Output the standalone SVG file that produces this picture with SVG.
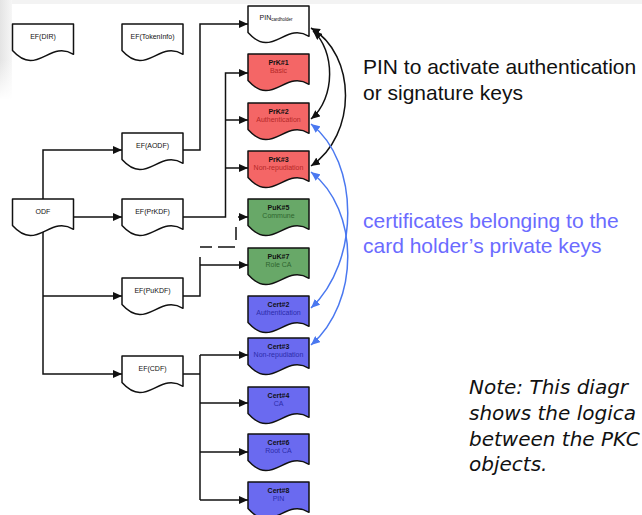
<svg xmlns="http://www.w3.org/2000/svg" xmlns:xlink="http://www.w3.org/1999/xlink" width="642" height="515" viewBox="0 0 642 515">
  <defs>
    <style>
      .doc { stroke: #111; stroke-width: 1.5; stroke-linejoin: round; }
      .white { fill: #ffffff; }
      .red { fill: #f46666; }
      .green { fill: #68a868; }
      .blue { fill: #6a6af0; }
      .lbl { font-family: "Liberation Sans", Arial, sans-serif; font-size: 7px; text-anchor: middle; fill: #111; }
      .id { font-weight: bold; }
      .nm-red { fill: #b42828; }
      .nm-green { fill: #2f652f; }
      .nm-blue { fill: #2c2caa; }
      .wire { fill: none; stroke: #111; stroke-width: 1.5; }
      .dash { stroke-dasharray: 12 6 17 8 13 12 10; }
      .pin-link { fill: none; stroke: #111; stroke-width: 1.5; }
      .cert-link { fill: none; stroke: #4a78f0; stroke-width: 1.5; }
      .big { font-family: "Liberation Sans", Arial, sans-serif; font-size: 21px; }
      .note { font-family: "DejaVu Sans", Verdana, sans-serif; font-style: italic; font-size: 20px; fill: #111; }
    </style>
    <!-- document shape: flat top, straight sides, wavy bottom -->
    <path id="doc" d="M0,0 H61 V30.3 C36.6,15.5 24.4,53.7 0,26.6 Z"/>
    <marker id="ah" markerWidth="9" markerHeight="8" refX="9" refY="4" orient="auto" markerUnits="userSpaceOnUse">
      <path d="M0,0 L9,4 L0,8 Z" fill="#111"/>
    </marker>
    <marker id="ahb" markerWidth="9" markerHeight="8" refX="9" refY="4" orient="auto-start-reverse" markerUnits="userSpaceOnUse">
      <path d="M0,0 L9,4 L0,8 Z" fill="#111"/>
    </marker>
    <marker id="ahblue" markerWidth="9" markerHeight="8" refX="9" refY="4" orient="auto-start-reverse" markerUnits="userSpaceOnUse">
      <path d="M0,0 L9,4 L0,8 Z" fill="#4a78f0"/>
    </marker>
    <linearGradient id="shade" x1="0" y1="0" x2="1" y2="0">
      <stop offset="0" stop-color="#e4e4e4"/>
      <stop offset="1" stop-color="#f6f6f6"/>
    </linearGradient>
    <linearGradient id="fadeDown" x1="0" y1="0" x2="0" y2="1">
      <stop offset="0" stop-color="#fff" stop-opacity="0"/>
      <stop offset="1" stop-color="#fff" stop-opacity="1"/>
    </linearGradient>
  </defs>

  <rect width="642" height="515" fill="#ffffff"/>
  <!-- soft shading along the top-left edge -->
  <rect x="0" y="0" width="642" height="4" fill="#f3f3f3"/>
  <rect x="0" y="0" width="12" height="100" fill="url(#shade)"/>
  <rect x="0" y="60" width="12" height="40" fill="url(#fadeDown)"/>

  <!-- connectors -->
  <g id="connectors">
    <path class="wire" d="M43,199 V150 H122" marker-end="url(#ah)"/>
    <path class="wire" d="M74,217 H122" marker-end="url(#ah)"/>
    <path class="wire" d="M43,230 V374 H122" marker-end="url(#ah)"/>
    <path class="wire" d="M43,296 H122" marker-end="url(#ah)"/>

    <path class="wire" d="M183,150 H200 V24 H248" marker-end="url(#ah)"/>

    <path class="wire" d="M183,217 H225.5 V73 H248" marker-end="url(#ah)"/>
    <path class="wire" d="M225.5,120 H248" marker-end="url(#ah)"/>
    <path class="wire" d="M225.5,168 H248" marker-end="url(#ah)"/>

    <path class="wire" d="M183,296 H200 V257"/>
    <path class="wire" d="M200,265 H248" marker-end="url(#ah)"/>
    <path class="wire dash" d="M200,247 H236 V217 H248" marker-end="url(#ah)"/>

    <path class="wire" d="M183,374 H200"/>
    <path class="wire" d="M200,355 V500"/>
    <path class="wire" d="M200,355 H248" marker-end="url(#ah)"/>
    <path class="wire" d="M200,403 H248" marker-end="url(#ah)"/>
    <path class="wire" d="M200,452 H248" marker-end="url(#ah)"/>
    <path class="wire" d="M200,500 H248" marker-end="url(#ah)"/>

    <!-- PIN protects the private keys -->
    <path class="pin-link" d="M313,31 C335,50 336,98 311,119" marker-start="url(#ahb)" marker-end="url(#ahb)"/>
    <path class="pin-link" d="M311,28 C357,55 357,135 311,166" marker-start="url(#ahb)" marker-end="url(#ahb)"/>

    <!-- certificates matching the private keys -->
    <path class="cert-link" d="M311,124 C360,162 360,262 311,308" marker-start="url(#ahblue)" marker-end="url(#ahblue)"/>
    <path class="cert-link" d="M311,172 C360,210 360,302 311,345" marker-start="url(#ahblue)" marker-end="url(#ahblue)"/>
  </g>

  <!-- directory files -->
  <g id="ef-dir">
    <use xlink:href="#doc" x="12.5" y="24" class="doc white"/>
    <text class="lbl" x="43" y="38.5">EF(DIR)</text>
  </g>
  <g id="ef-tokeninfo">
    <use xlink:href="#doc" x="122" y="24" class="doc white"/>
    <text class="lbl" x="152.5" y="38.5">EF(TokenInfo)</text>
  </g>
  <g id="odf">
    <use xlink:href="#doc" x="12.5" y="199" class="doc white"/>
    <text class="lbl" x="43" y="214">ODF</text>
  </g>
  <g id="ef-aodf">
    <use xlink:href="#doc" x="122" y="133" class="doc white"/>
    <text class="lbl" x="152.5" y="147.5">EF(AODF)</text>
  </g>
  <g id="ef-prkdf">
    <use xlink:href="#doc" x="122" y="199" class="doc white"/>
    <text class="lbl" x="152.5" y="213.5">EF(PrKDF)</text>
  </g>
  <g id="ef-pukdf">
    <use xlink:href="#doc" x="122" y="278" class="doc white"/>
    <text class="lbl" x="152.5" y="292.5">EF(PuKDF)</text>
  </g>
  <g id="ef-cdf">
    <use xlink:href="#doc" x="122" y="356" class="doc white"/>
    <text class="lbl" x="152.5" y="370.5">EF(CDF)</text>
  </g>

  <!-- PKCS#15 objects -->
  <g id="pin">
    <use xlink:href="#doc" x="248" y="6" class="doc white"/>
    <text class="lbl" x="276" y="19.5">PIN<tspan font-size="4.5" dy="1.8">cardholder</tspan></text>
  </g>
  <g id="prk1">
    <use xlink:href="#doc" x="248" y="54" class="doc red"/>
    <text class="lbl id" x="278.5" y="64.5">PrK#1</text>
    <text class="lbl nm-red" x="278.5" y="73">Basic</text>
  </g>
  <g id="prk2">
    <use xlink:href="#doc" x="248" y="103" class="doc red"/>
    <text class="lbl id" x="278.5" y="113.5">PrK#2</text>
    <text class="lbl nm-red" x="278.5" y="122">Authentication</text>
  </g>
  <g id="prk3">
    <use xlink:href="#doc" x="248" y="151" class="doc red"/>
    <text class="lbl id" x="278.5" y="161.5">PrK#3</text>
    <text class="lbl nm-red" x="278.5" y="170">Non-repudiation</text>
  </g>
  <g id="puk5">
    <use xlink:href="#doc" x="248" y="199" class="doc green"/>
    <text class="lbl id" x="278.5" y="209.5">PuK#5</text>
    <text class="lbl nm-green" x="278.5" y="218">Commune</text>
  </g>
  <g id="puk7">
    <use xlink:href="#doc" x="248" y="248" class="doc green"/>
    <text class="lbl id" x="278.5" y="258.5">PuK#7</text>
    <text class="lbl nm-green" x="278.5" y="267">Role CA</text>
  </g>
  <g id="cert2">
    <use xlink:href="#doc" x="248" y="296" class="doc blue"/>
    <text class="lbl id" x="278.5" y="306.5">Cert#2</text>
    <text class="lbl nm-blue" x="278.5" y="315">Authentication</text>
  </g>
  <g id="cert3">
    <use xlink:href="#doc" x="248" y="338" class="doc blue"/>
    <text class="lbl id" x="278.5" y="348.5">Cert#3</text>
    <text class="lbl nm-blue" x="278.5" y="357">Non-repudiation</text>
  </g>
  <g id="cert4">
    <use xlink:href="#doc" x="248" y="387" class="doc blue"/>
    <text class="lbl id" x="278.5" y="397.5">Cert#4</text>
    <text class="lbl nm-blue" x="278.5" y="406">CA</text>
  </g>
  <g id="cert6">
    <use xlink:href="#doc" x="248" y="434" class="doc blue"/>
    <text class="lbl id" x="278.5" y="444.5">Cert#6</text>
    <text class="lbl nm-blue" x="278.5" y="453">Root CA</text>
  </g>
  <g id="cert8">
    <use xlink:href="#doc" x="248" y="482" class="doc blue"/>
    <text class="lbl id" x="278.5" y="492.5">Cert#8</text>
    <text class="lbl nm-blue" x="278.5" y="501">PIN</text>
  </g>

  <!-- annotations -->
  <text class="big" fill="#111"><tspan x="363" y="74">PIN to activate authentication</tspan><tspan x="363" y="100">or signature keys</tspan></text>
  <text class="big" fill="#6b6bff"><tspan x="363" y="228">certificates belonging to the</tspan><tspan x="363" y="253">card holder’s private keys</tspan></text>
  <text class="note"><tspan x="469" y="394">Note: This diagr</tspan><tspan x="469" y="420">shows the logica</tspan><tspan x="469" y="446">between the PKC</tspan><tspan x="469" y="471">objects.</tspan></text>
</svg>
